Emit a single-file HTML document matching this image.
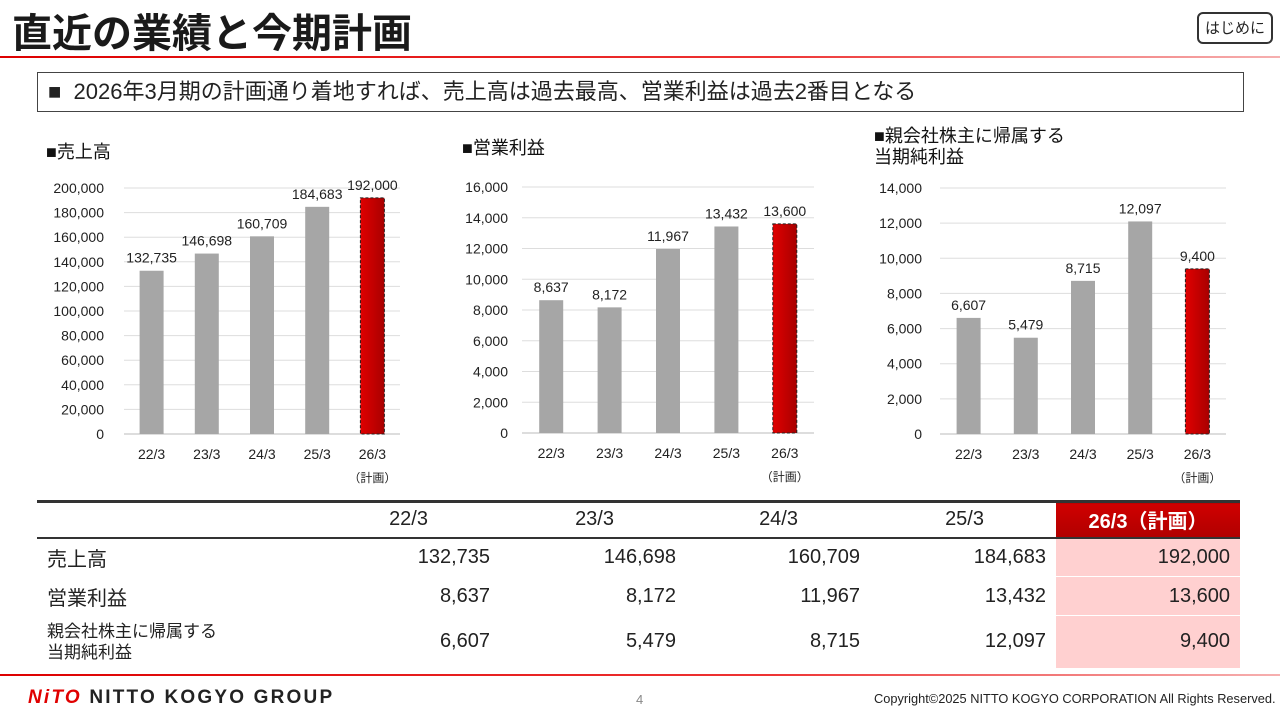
<!DOCTYPE html>
<html><head><meta charset="utf-8">
<style>
html,body{margin:0;padding:0;background:#fff;}
body{width:1280px;height:720px;position:relative;overflow:hidden;font-family:"Liberation Sans","Noto Sans CJK JP",sans-serif;color:#222;}
.abs{position:absolute;}
#title{left:12px;top:1px;font-size:40px;font-weight:bold;color:#1a1a1a;letter-spacing:0px;}
#topline{left:0;top:56px;width:1280px;height:2px;background:linear-gradient(90deg,#d00,#e33 60%,#f6b0b0);}
#btn{left:1197px;top:12px;width:76px;height:32px;border:2px solid #333;border-radius:6px;font-size:15px;text-align:center;line-height:30px;box-sizing:border-box;}
#msg{left:37px;top:72px;width:1207px;height:40px;border:1px solid #444;box-sizing:border-box;font-size:22px;line-height:38px;padding-left:10px;white-space:nowrap;}
svg text{font-family:"Liberation Sans","Noto Sans CJK JP",sans-serif;}
table{position:absolute;left:37px;top:500px;width:1203px;border-collapse:collapse;font-size:20px;table-layout:fixed;}
td{padding:0 10px;text-align:right;white-space:nowrap;}
td.l{text-align:left;}
td.h{padding-right:72px;}
td.p{background:#ffd0d0;border-top:1px solid #fff;}
#botline{left:0;top:674px;width:1280px;height:2px;background:linear-gradient(90deg,#d00,#e33 60%,#f6b0b0);}
</style></head><body>
<div class="abs" id="title">直近の業績と今期計画</div>
<div class="abs" id="topline"></div>
<div class="abs" id="btn">はじめに</div>
<div class="abs" id="msg">■&nbsp; 2026年3月期の計画通り着地すれば、売上高は過去最高、営業利益は過去2番目となる</div>

<svg class="abs" style="left:0;top:0" width="1280" height="500" id="charts">
<defs><linearGradient id="rg" x1="0" x2="1" y1="0" y2="0"><stop offset="0" stop-color="#e00000"/><stop offset="1" stop-color="#a80000"/></linearGradient></defs>
</svg>

<table>
<colgroup><col style="width:270px"><col style="width:193px"><col style="width:186px"><col style="width:184px"><col style="width:186px"><col style="width:184px"></colgroup>
<tr style="height:36px;border-top:3px solid #333;border-bottom:2px solid #333">
<td class="l"></td><td class="h">22/3</td><td class="h">23/3</td><td class="h">24/3</td><td class="h">25/3</td>
<td style="text-align:center;background:linear-gradient(180deg,#d00000,#b00000);color:#fff;font-weight:bold">26/3（計画）</td></tr>
<tr style="height:39px"><td class="l">売上高</td><td>132,735</td><td>146,698</td><td>160,709</td><td>184,683</td><td class="p" style="border-top:none">192,000</td></tr>
<tr style="height:39px"><td class="l">営業利益</td><td>8,637</td><td>8,172</td><td>11,967</td><td>13,432</td><td class="p">13,600</td></tr>
<tr style="height:52px"><td class="l" style="font-size:17px;line-height:21px">親会社株主に帰属する<br>当期純利益</td><td>6,607</td><td>5,479</td><td>8,715</td><td>12,097</td><td class="p">9,400</td></tr>
</table>

<div class="abs" id="botline"></div>
<div class="abs" style="left:28px;top:687px;font-size:19px;font-weight:900;letter-spacing:2.2px"><span style="color:#e00000;font-style:italic">NiTO</span> NITTO KOGYO GROUP</div>
<div class="abs" style="left:636px;top:692px;font-size:13px;color:#888">4</div>
<div class="abs" style="left:874px;top:691px;font-size:12.8px;color:#222">Copyright©2025 NITTO KOGYO CORPORATION All Rights Reserved.</div>

<script>
const categories = ["22/3","23/3","24/3","25/3","26/3"];
const salesValues = [132735,146698,160709,184683,192000];
const opProfitValues = [8637,8172,11967,13432,13600];
const netIncomeValues = [6607,5479,8715,12097,9400];
const salesTicks = [0,20000,40000,60000,80000,100000,120000,140000,160000,180000,200000];
const opTicks = [0,2000,4000,6000,8000,10000,12000,14000,16000];
const netTicks = [0,2000,4000,6000,8000,10000,12000,14000];

const NS="http://www.w3.org/2000/svg";
const svg=document.getElementById('charts');
function mk(tag,attrs,parent){const e=document.createElementNS(NS,tag);for(const k in attrs)e.setAttribute(k,attrs[k]);(parent||svg).appendChild(e);return e;}
const fmt=v=>v.toLocaleString('en-US');

function chart(cfg){
  const g=mk('g',{});
  
  
  const max=cfg.ticks[cfg.ticks.length-1];
  const y=v=>cfg.y0-(v/max)*(cfg.y0-cfg.y1);
  const step=(cfg.x1-cfg.x0)/categories.length;
  const x=i=>cfg.x0+step*(i+0.5);
  cfg.ticks.forEach(t=>{
    const ln=mk('line',{x1:cfg.x0,x2:cfg.x1,y1:y(t),y2:y(t),stroke:t===0?'#bbb':'#ddd','stroke-width':1},g);
    
    
    const tx=mk('text',{x:cfg.lx,y:y(t)+5,'text-anchor':'end','font-size':14,fill:'#222'},g);
    tx.textContent=fmt(t);
    
    
  });
  cfg.values.forEach((v,i)=>{
    const last=i===categories.length-1;
    const r=mk('rect',{x:x(i)-12,y:y(v),width:24,height:cfg.y0-y(v),fill:last?'url(#rg)':'#a6a6a6'},g);
    if(last){r.setAttribute('stroke','#222');r.setAttribute('stroke-dasharray','3,2');r.setAttribute('stroke-width','1');}
    
    
    const t=mk('text',{x:x(i),y:y(v)-8,'text-anchor':'middle','font-size':14,fill:'#222'},g);
    t.textContent=fmt(v);
    
    
    const c=mk('text',{x:x(i),y:cfg.y0+25,'text-anchor':'middle','font-size':14,fill:'#222'},g);
    c.textContent=categories[i];
    
    
    if(last){const p=mk('text',{x:x(i),y:cfg.y0+48,'text-anchor':'middle','font-size':12,fill:'#222'},g);p.textContent='（計画）';
      
      }
  });
  cfg.title.forEach((tl,k)=>{
    const t=mk('text',{x:cfg.tx,y:cfg.ty+k*21,'font-size':18,fill:'#111'},g);
    t.textContent=tl;
    
    
  });
}
chart({name:'sales-chart',values:salesValues,ticks:salesTicks,x0:124,x1:400,y0:434,y1:188,lx:104,title:['■売上高'],tx:46,ty:158});
chart({name:'operating-profit-chart',values:opProfitValues,ticks:opTicks,x0:522,x1:814,y0:433,y1:187,lx:508,title:['■営業利益'],tx:462,ty:154});
chart({name:'net-income-chart',values:netIncomeValues,ticks:netTicks,x0:940,x1:1226,y0:434,y1:188,lx:922,title:['■親会社株主に帰属する','  当期純利益'],tx:874,ty:142});
</script>
</body></html>
